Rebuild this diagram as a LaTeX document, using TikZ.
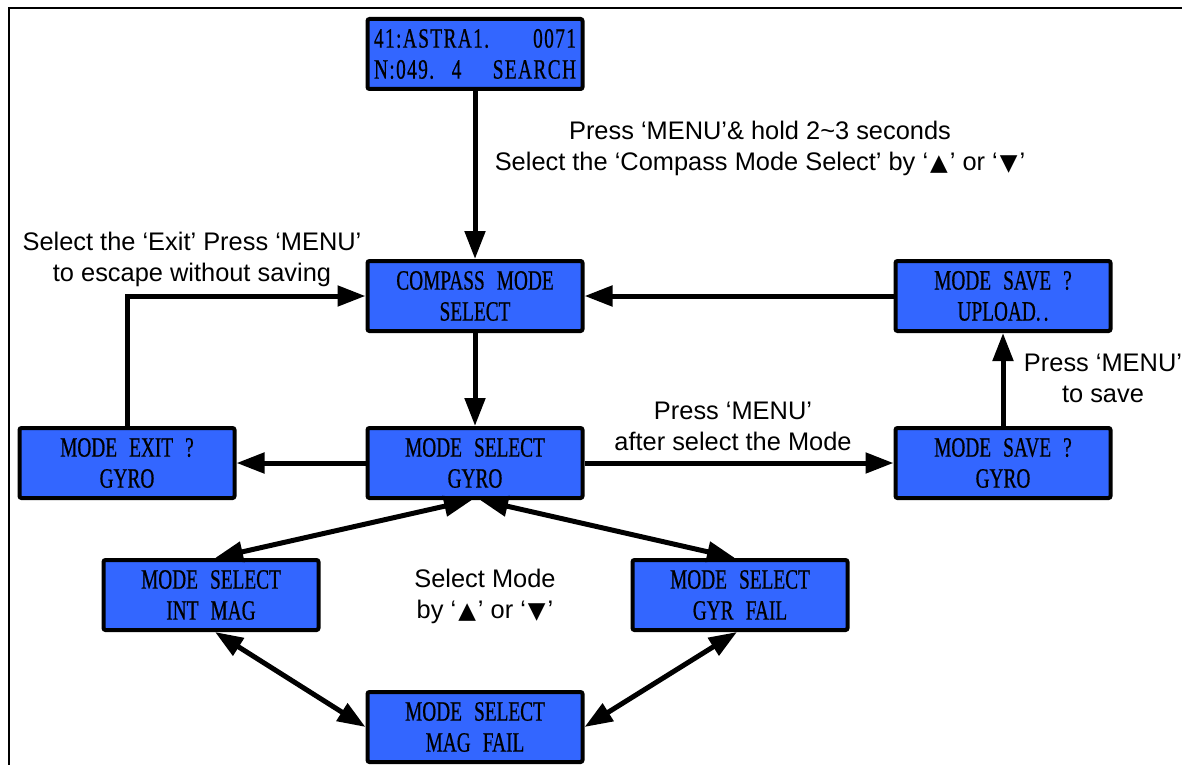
\documentclass[tikz,border=0pt]{standalone}
\usepackage{fontspec}
\setmainfont{Liberation Sans}
\newfontfamily\lcdfont[FakeStretch=0.69,WordSpace=2.5,FakeBold=0.6]{Liberation Serif}
\newfontfamily\symfont{DejaVu Sans}
\usepackage{tikz}
\usetikzlibrary{arrows.meta}
\definecolor{lcdblue}{HTML}{3366FF}
\newcommand{\up}{\kern1pt{\symfont\fontsize{11.5}{11.5}\selectfont ▲}\kern1pt}
\newcommand{\down}{\kern1pt{\symfont\fontsize{11.5}{11.5}\selectfont ▼}\kern1pt}

\begin{document}
\begin{tikzpicture}[x=0.5pt,y=-0.5pt,
  lcd/.style={rectangle, draw, line width=2pt, fill=lcdblue, rounded corners=1pt,
    minimum width=107.5pt, minimum height=35pt, inner sep=0pt, align=center,
    font=\lcdfont\fontsize{14}{15.5}\selectfont},
  lbl/.style={align=center, font=\fontsize{12.7}{15.5}\selectfont},
  arr/.style={line width=2.5pt, -{Triangle[length=14pt,width=10pt]}},
  dblarr/.style={line width=2.5pt, {Triangle[length=14pt,width=10pt]}-{Triangle[length=14pt,width=10pt]}}]
\useasboundingbox (0,0) rectangle (1182,765);
\draw[line width=1pt] (1182,8) -- (9,8) -- (9,765);

\node (search) at (475,54) [lcd, font=\lcdfont\fontsize{14}{15.5}\selectfont\addfontfeatures{LetterSpace=5}]
  {\makebox[101pt]{41:ASTRA1.\hfill 0071}\\\makebox[101pt]{N:049. 4\hfill SEARCH}};

\node (compass) at (475,296) [lcd] {COMPASS MODE\\SELECT};
\node (upload) at (1003,296) [lcd] {MODE SAVE ?\\UPLOAD.\kern1.5pt.};

\node (exit) at (127,463) [lcd] {MODE EXIT ?\\GYRO};
\node (gyro) at (475,463) [lcd] {MODE SELECT\\GYRO};
\node (savegyro) at (1003,463) [lcd] {MODE SAVE ?\\GYRO};

\node (intmag) at (211,595) [lcd] {MODE SELECT\\INT MAG};
\node (gyrfail) at (740,595) [lcd] {MODE SELECT\\GYR FAIL};
	\node (magfail) at (475,727) [lcd] {MODE SELECT\\MAG FAIL};

\draw[arr] (search) -- (compass);
\draw[arr] (compass) -- (gyro);
\draw[arr] (upload) -- (compass);
\draw[arr] (savegyro) -- (upload);
\draw[arr] (gyro) -- (savegyro);
\draw[arr] (gyro) -- (exit);
\draw[arr] (exit.north) |- (compass.west);

\draw[dblarr] ([xshift=-1.5pt]gyro.south) -- ([xshift=2pt]intmag.north);
\draw[dblarr] ([xshift=2.5pt]gyro.south) -- ([xshift=-2.5pt]gyrfail.north);
\draw[dblarr] ([xshift=2pt]intmag.south) -- (magfail.west);
\draw[dblarr] ([xshift=-1.5pt]gyrfail.south) -- (magfail.east);

\node (holdlbl) at (760,148) [lbl] {Press ‘MENU’\& hold 2\textasciitilde3 seconds\\Select the ‘Compass Mode Select’ by ‘\up’ or ‘\down’};
\node (exitlbl) at (192,259) [lbl] {Select the ‘Exit’ Press ‘MENU’\\to escape without saving};
\node (modelbl) at (733,426) [lbl] {Press ‘MENU’\\after select the Mode};
\node (savelbl) at (1103,378) [lbl] {Press ‘MENU’\\to save};
\node (sellbl) at (485,596) [lbl] {Select Mode\\by ‘\up’ or ‘\down’};
\end{tikzpicture}
\end{document}
